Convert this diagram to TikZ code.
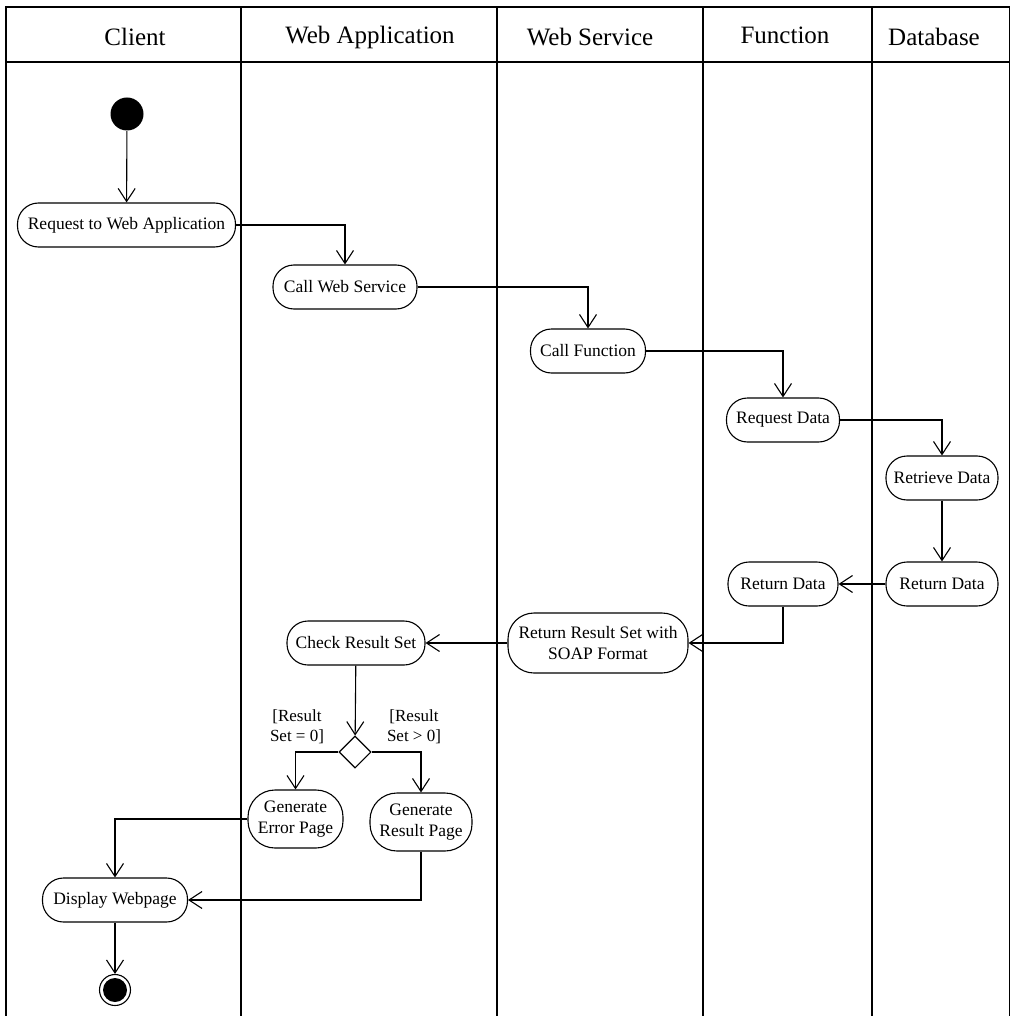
\documentclass[tikz,border=0pt]{standalone}
\usepackage{fontspec}
\setmainfont{Liberation Serif}
\usetikzlibrary{arrows.meta,shapes.geometric}

\begin{document}
\begin{tikzpicture}[x=1pt, y=-1pt, line width=1.1pt,
		aktion/.style={draw, rounded corners=21pt, minimum height=44pt, inner xsep=6pt, align=center, font=\fontsize{17.5}{21}\selectfont},
		bahn/.style={font=\fontsize{25}{30}\selectfont},
		pfeil/.style={-{Straight Barb[length=13pt,width=17pt]}},
		bedingung/.style={align=center, font=\fontsize{17}{20}\selectfont}]
		\useasboundingbox (0,0) rectangle (1011,1016);
		
		\draw[line width=1.3pt] (6,1016) -- (6,7) -- (1009.5,7) -- (1009.5,1016);
		\draw[line width=1.3pt] (6,62) -- (1009.5,62);
		\draw (241,7) -- (241,1016);
		\draw (497,7) -- (497,1016);
		\draw (703,7) -- (703,1016);
		\draw (872,7) -- (872,1016);
		
		\node (client) [bahn] at (135,37) {Client};
		\node (webapp) [bahn] at (370,37) {Web Application};
		\node (websrv) [bahn] at (590,37) {Web Service};
		\node (funktion) [bahn] at (785,35) {Function};
		\node (datenbank) [bahn] at (934,37) {Database};
		
		\node (start) [circle, fill, minimum size=33pt, inner sep=0pt] at (127,114) {};
		\node (anfrage) [aktion, minimum width=218pt] at (126.5,225) {Request to Web Application};
		\node (aufrufws) [aktion, minimum width=144pt] at (345,287) {Call Web Service};
		\node (aufruffn) [aktion, minimum width=115pt] at (588,351) {Call Function};
		\node (datenanf) [aktion, minimum width=113pt] at (783,420) {Request Data};
		\node (abruf) [aktion, minimum width=112pt] at (942,478) {Retrieve Data};
		\node (rueckdb) [aktion, minimum width=112pt] at (942,584) {Return Data};
		\node (rueckfn) [aktion, minimum width=110pt] at (783,584) {Return Data};
		\node (soap) [aktion, minimum width=180pt, minimum height=60pt, rounded corners=26pt] at (598,643) {Return Result Set with\\SOAP Format};
		\node (pruefen) [aktion, minimum width=138pt] at (356,643) {Check Result Set};
		\node (entscheid) [draw, diamond, minimum size=32pt, inner sep=0pt] at (355,752) {};
		\node (fehler) [aktion, minimum width=95pt, minimum height=58pt, rounded corners=27pt, inner xsep=3pt] at (295.5,819) {Generate\\Error Page};
		\node (ergebnis) [aktion, minimum width=102pt, minimum height=58pt, rounded corners=27pt, inner xsep=3pt] at (421,822) {Generate\\Result Page};
		\node (anzeige) [aktion, minimum width=145pt] at (115,900) {Display Webpage};
		\node (ende) [circle, draw, fill=white, minimum size=31pt, inner sep=0pt] at (115,990) {};
		\node (endekern) [circle, fill, minimum size=24pt, inner sep=0pt] at (115,990) {};
		
		\node (gleichnull) [bedingung] at (297,727) {[Result\\Set = 0]};
		\node (groesser) [bedingung] at (414,727) {[Result\\Set > 0]};
		
		\draw[pfeil] (start) -- (anfrage);
		\draw[pfeil] (anfrage.east) -| (aufrufws.north);
		\draw[pfeil] (aufrufws.east) -| (aufruffn.north);
		\draw[pfeil] (aufruffn.east) -| (datenanf.north);
		\draw[pfeil] (datenanf.east) -| (abruf.north);
		\draw[pfeil] (abruf) -- (rueckdb);
		\draw[pfeil] (rueckdb) -- (rueckfn);
		\draw[pfeil] (rueckfn.south) |- (soap.east);
		\draw[pfeil] (soap) -- (pruefen);
		\draw[pfeil] (pruefen) -- (entscheid);
		\draw[pfeil] (entscheid.west) -| (fehler.north);
		\draw[pfeil] (entscheid.east) -| (ergebnis.north);
		\draw[pfeil] (fehler.west) -| (anzeige.north);
		\draw[pfeil] (ergebnis.south) |- (anzeige.east);
		\draw[pfeil] (anzeige) -- (ende);
	\end{tikzpicture}
\end{document}
